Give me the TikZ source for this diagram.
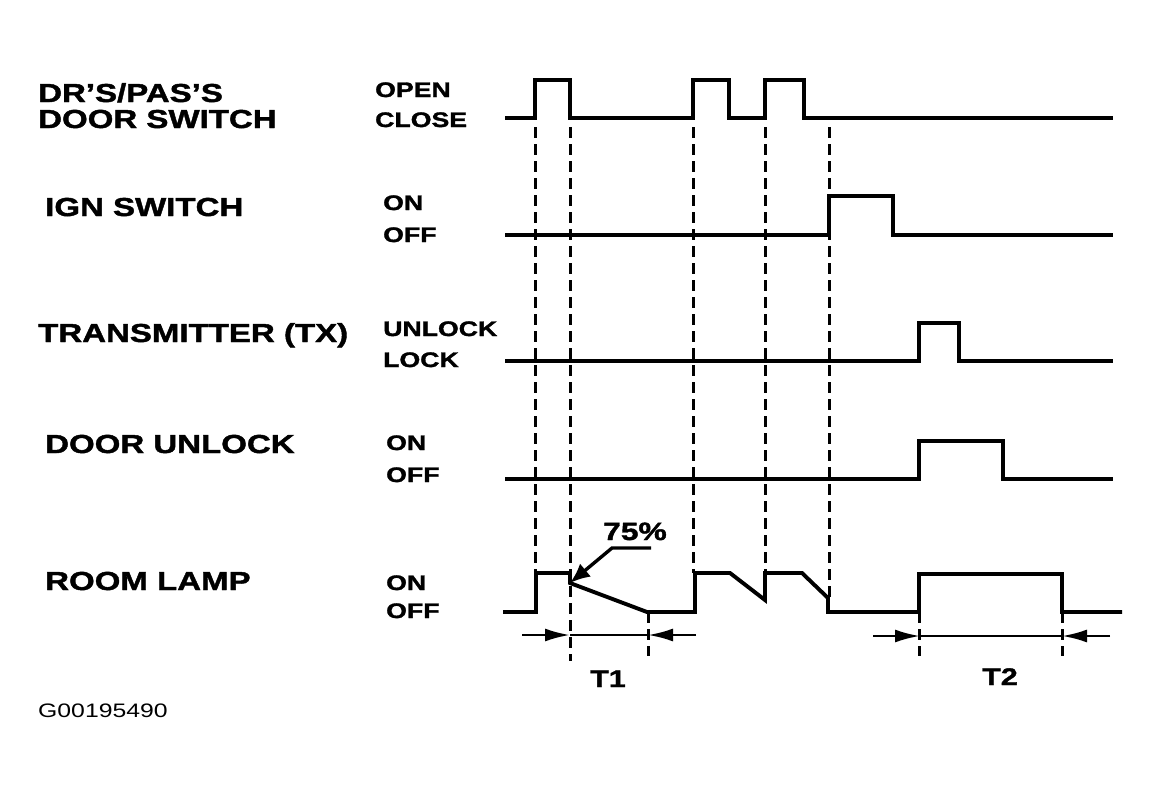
\documentclass[tikz,border=0pt]{standalone}
\usepackage{fontspec}
\setmainfont[FakeStretch=1.27,BoldFeatures={FakeBold=1.6}]{Liberation Sans}
\usetikzlibrary{arrows.meta}
\tikzset{
  wave/.style={line width=3.9pt, line join=miter, line cap=butt},
  guide/.style={line width=3pt, dash pattern=on 11pt off 6pt},
  dimline/.style={line width=2.6pt},
  dimtip/.style={line width=2.6pt, -{Latex[length=25pt,width=13pt]}},
  siglabel/.style={anchor=base west, inner sep=0pt, font=\fontsize{26}{28}\selectfont\bfseries},
  statelabel/.style={anchor=base west, inner sep=0pt, font=\fontsize{21}{23}\selectfont\bfseries},
  tlabel/.style={anchor=base west, inner sep=0pt, font=\fontsize{24}{26}\selectfont\bfseries},
}
\begin{document}
\begin{tikzpicture}[x=1pt,y=-1pt]
\useasboundingbox (0,0) rectangle (1160,793);

% signal names
\node[siglabel] (n1) at (38,102) {DR'S/PAS'S};
\node[siglabel] (n2) at (38,128) {DOOR SWITCH};
\node[siglabel] (n3) at (45,216) {IGN SWITCH};
\node[siglabel] (n4) at (38,342) {TRANSMITTER (TX)};
\node[siglabel] (n5) at (45,453) {DOOR UNLOCK};
\node[siglabel] (n6) at (45,590) {ROOM LAMP};

% state names
\node[statelabel] (s1a) at (375,97) {OPEN};
\node[statelabel] (s1b) at (375,127) {CLOSE};
\node[statelabel] (s2a) at (383,210) {ON};
\node[statelabel] (s2b) at (383,242) {OFF};
\node[statelabel] (s3a) at (383,336) {UNLOCK};
\node[statelabel] (s3b) at (383,367) {LOCK};
\node[statelabel] (s4a) at (386,450) {ON};
\node[statelabel] (s4b) at (386,482) {OFF};
\node[statelabel] (s5a) at (386,590) {ON};
\node[statelabel] (s5b) at (386,618) {OFF};

% guide lines
\draw[guide] (535,127) -- (535,573);
\draw[guide] (570,127) -- (570,661);
\draw[guide] (693,127) -- (693,573);
\draw[guide] (765,127) -- (765,573);
\draw[guide] (829,127) -- (829,598);
\draw[guide] (648,612) -- (648,656);
\draw[guide] (919,612) -- (919,656);
\draw[guide] (1062,612) -- (1062,656);

% waveforms
\draw[wave] (505,118) -- (535,118) -- (535,80) -- (570,80) -- (570,118)
  -- (693,118) -- (693,80) -- (729,80) -- (729,118) -- (765,118) -- (765,80)
  -- (804,80) -- (804,118) -- (1113,118);
\draw[wave] (505,235) -- (829,235) -- (829,196) -- (893,196) -- (893,235) -- (1113,235);
\draw[wave] (505,361) -- (919,361) -- (919,323) -- (959,323) -- (959,361) -- (1113,361);
\draw[wave] (505,479) -- (919,479) -- (919,441) -- (1003,441) -- (1003,479) -- (1113,479);
\draw[wave] (503,612) -- (536,612) -- (536,573) -- (570,573) -- (570,583)
  -- (647,612) -- (695,612) -- (695,573) -- (730,573) -- (765,600) -- (765,573)
  -- (802,573) -- (828,598) -- (828,612) -- (919,612) -- (919,574)
  -- (1062,574) -- (1062,612) -- (1122,612);

% 75% callout
\node[anchor=base west, inner sep=0pt, font=\fontsize{25}{27}\selectfont\bfseries] (pct) at (603,540) {75\%};
\coordinate (pctA) at (651,548);
\coordinate (pctB) at (612,548);
\coordinate (pctTip) at (570,583);
\draw[line width=3.4pt, -{Latex[length=20pt,width=17pt]}] (pctA) -- (pctB) -- (pctTip);

% T1 dimension
\coordinate (t1L) at (522,635);
\coordinate (t1a) at (570,635);
\coordinate (t1b) at (648,635);
\coordinate (t1R) at (696,635);
\draw[dimtip] (t1L) -- (t1a);
\draw[dimline] (t1a) -- (t1b);
\draw[dimtip] (t1R) -- (t1b);
\node[tlabel] (T1) at (590,687) {T1};

% T2 dimension
\coordinate (t2L) at (873,636);
\coordinate (t2a) at (920,636);
\coordinate (t2b) at (1062,636);
\coordinate (t2R) at (1110,636);
\draw[dimtip] (t2L) -- (t2a);
\draw[dimline] (t2a) -- (t2b);
\draw[dimtip] (t2R) -- (t2b);
\node[tlabel] (T2) at (982,685) {T2};

\node[anchor=base west, inner sep=0pt, font=\fontsize{19.5}{21}\selectfont] (code) at (38,717) {G00195490};
\end{tikzpicture}
\end{document}
